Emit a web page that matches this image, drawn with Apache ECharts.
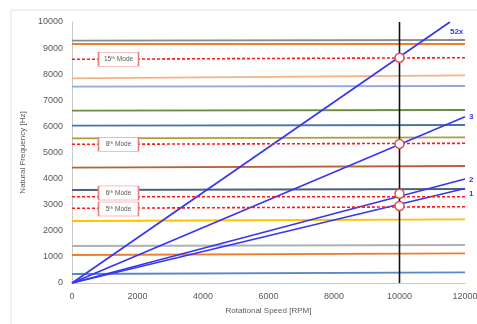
<!DOCTYPE html>
<html><head><meta charset="utf-8">
<script src="https://cdn.jsdelivr.net/npm/echarts@6/dist/echarts.min.js"></script>
<style>html,body{margin:0;padding:0;background:#fff}#c{width:477px;height:324px}</style>
</head><body><div id="c"></div>
<script>
// Natural frequency lines: value at 0 rpm and at 12000 rpm
const freqStart = [9283, 9157, 7843, 7521, 6602, 6027, 5544, 4418, 3563, 2375, 1418, 1073, 345];
const freqEnd   = [9310, 9157, 7958, 7548, 6628, 6054, 5582, 4483, 3602, 2441, 1456, 1138, 410];
const freqColors = ['#8c8c8c','#ED7D31','#F4B183','#8FAADC','#6E8B3D','#4A74A8','#B39B3A','#B5633E','#50607A','#FFC000','#B0B0B0','#ED7D31','#5B85CC'];
// Excitation order lines: end points [rpm, Hz]
const orderNames = ['52x','3','2','1'];
const orderEnd = [[11540, 10000], [12000, 6372], [12000, 3985], [12000, 3620]];
// Critical modes (red dashed)
const modeNames = ['15ᵗʰ Mode','8ᵗʰ Mode','6ᵗʰ Mode','5ᵗʰ Mode'];
const modeStart = [8571, 5314, 3307, 2862];
const modeEnd   = [8632, 5352, 3307, 2923];
const modeLabelY = [8571, 5314, 3448, 2835];
const modeLabelX = 1420;
// Intersections at operating speed
const opSpeed = 10000;
const crossings = [8630, 5330, 3420, 2950];
const xTicks = [0, 12000, 2000];
const yTicks = [0, 10000, 1000];

const series = [];
freqStart.forEach((v, i) => {
  series.push({type:'line', data:[[0, v],[12000, freqEnd[i]]], symbol:'none', silent:true,
    lineStyle:{color:freqColors[i], width:1.8}, z:2});
});
orderEnd.forEach((p, i) => {
  const offs = [[-4,10],[0,0],[0,1],[0,5]];
  series.push({type:'line', data:[[0,0], p], symbol:'none', silent:true,
    lineStyle:{color:'#3737F0', width:1.7}, z:3,
    endLabel:{show:true, formatter:orderNames[i], color:'#3737F0', fontSize:8, fontWeight:'bold',
      fontFamily:'Liberation Sans', distance:4, offset:offs[i]}});
});
modeStart.forEach((v, i) => {
  series.push({type:'line', data:[[0, v],[12000, modeEnd[i]]], symbol:'none', silent:true,
    lineStyle:{color:'#FF1A1A', width:1.6, type:[3,2]}, z:4});
});
series.push({type:'line', data:[[opSpeed,0],[opSpeed,10000]], symbol:'none', silent:true,
  lineStyle:{color:'#111', width:1.6}, z:5});
series.push({type:'scatter', data:crossings.map(v=>[opSpeed, v]), symbol:'circle', symbolSize:9,
  itemStyle:{color:'#fff', borderColor:'#E05050', borderWidth:1.5, opacity:1}, z:6, silent:true});
series.push({type:'scatter', data:modeLabelY.map(v=>[modeLabelX, v]), symbol:'rect', symbolSize:[40,14],
  itemStyle:{color:'#ffffff', borderColor:'#F08080', borderWidth:1, opacity:1}, z:7, silent:true,
  label:{show:true, position:'inside', formatter:p=>modeNames[p.dataIndex], fontSize:6.5,
    fontFamily:'Liberation Sans', color:'#595959'}});

const chart = echarts.init(document.getElementById('c'), null, {renderer:'canvas'});
chart.setOption({
  animation:false,
  backgroundColor:'#fff',
  graphic:[{type:'rect', shape:{x:11, y:10, width:480, height:330}, style:{fill:'none', stroke:'#E3E3E3', lineWidth:1}, z:-1}],
  grid:{left:72, right:12, top:22, bottom:41, outerBoundsMode:'none', containLabel:false},
  xAxis:{type:'value', min:xTicks[0], max:xTicks[1], interval:xTicks[2],
    name:'Rotational Speed [RPM]', nameLocation:'middle', nameGap:24,
    nameTextStyle:{fontSize:8, color:'#595959', fontFamily:'Liberation Sans'},
    axisLine:{show:true, lineStyle:{color:'#C8C8C8'}}, axisTick:{show:false}, splitLine:{show:false},
    axisLabel:{fontSize:9, color:'#595959', fontFamily:'Liberation Sans', margin:9, formatter:v=>String(v)}},
  yAxis:{type:'value', min:yTicks[0], max:yTicks[1], interval:yTicks[2],
    name:'Natural Frequency [Hz]', nameLocation:'middle', nameGap:35, nameRotate:90,
    nameTextStyle:{fontSize:8, color:'#595959', fontFamily:'Liberation Sans'},
    axisLine:{show:true, lineStyle:{color:'#C8C8C8'}}, axisTick:{show:false}, splitLine:{show:false},
    axisLabel:{fontSize:9, color:'#595959', fontFamily:'Liberation Sans', margin:9, formatter:v=>String(v)}},
  series
});
</script></body></html>
